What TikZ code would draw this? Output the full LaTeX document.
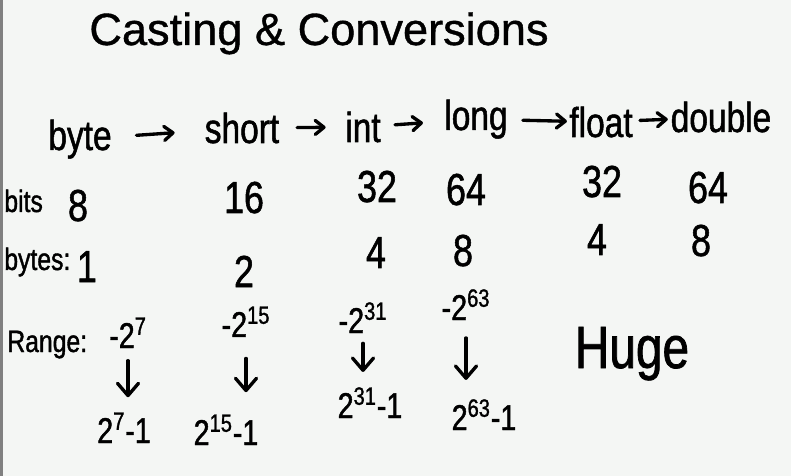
\documentclass[tikz,border=0pt]{standalone}
\usepackage{fontspec}
\setmainfont{Liberation Sans}[FakeBold=0.8]
\newfontfamily\handfont{Liberation Sans}[FakeStretch=0.8, FakeBold=1.2]
\usetikzlibrary{arrows.meta}
\definecolor{board}{HTML}{F4F6F4}

\begin{document}
\begin{tikzpicture}[
    x=0.02cm, y=-0.02cm,
    hw/.style={inner sep=0pt, anchor=base, text=black},
    headline/.style={hw, font=\fontsize{25.7}{30}\selectfont},
    word/.style={hw, font=\handfont\fontsize{23.8}{28}\selectfont},
    num/.style={hw, font=\handfont\fontsize{25.5}{30}\selectfont},
    lbl/.style={hw, anchor=base west, font=\handfont\fontsize{17.6}{21}\selectfont},
    rng/.style={hw, font=\handfont\fontsize{20.4}{24}\selectfont},
    hugetxt/.style={hw, font=\handfont\fontsize{34}{40}\selectfont},
    conv/.style={line width=1.9pt, line cap=round,
        -{Straight Barb[round, length=5pt, width=8pt]}},
    down/.style={line width=1.9pt, line cap=round,
        -{Straight Barb[round, length=7pt, width=12pt]}}
]
\useasboundingbox (0,0) rectangle (791,476);
\fill[board] (0,0) rectangle (791,476);
\fill[black!50] (0,0) rectangle (3,476);

\node[headline] (title) at (319,45) {Casting \& Conversions};

% --- widening chain of types ---
\node[word] (byte) at (80,150) {byte};
\node[word] (short) at (242,143) {short};
\node[word] (int) at (363,142) {int};
\node[word] (long) at (476,130) {long};
\node[word] (float) at (601,137) {float};
\node[word] (double) at (721,132) {double};

\foreach \a/\b/\s/\e in {byte/short/14/17, short/int/10/11,
    int/long/8/12, long/float/8.5/1.2, float/double/4/1.5} {
    \draw[conv, shorten <=\s pt, shorten >=\e pt] (\a) -- (\b);
}

% --- sizes ---
\node[lbl] (lbits) at (4,212) {bits};
\node[lbl] (lbytes) at (4,270) {bytes:};

\foreach \nm/\x/\y/\v in {b1/78/221/8, b2/244/213/16, b3/377/202/32,
    b4/466/205/64, b5/602/197/32, b6/708/203/64} {
    \node[num] (\nm) at (\x,\y) {\v};
}
\foreach \nm/\x/\y/\v in {y1/87/282/1, y2/244/287/2, y3/376/268/4,
    y4/463/266/8, y5/597/255/4, y6/701/256/8} {
    \node[num] (\nm) at (\x,\y) {\v};
}

% --- ranges ---
\node[lbl] (lrange) at (7,352) {Range:};

\foreach \nm/\x/\y/\p in {mn1/128/348/7, mn2/246/337/15,
    mn3/363/333/31, mn4/466/320/63} {
    \node[rng] (\nm) at (\x,\y) {-2\textsuperscript{\p}};
}
\foreach \nm/\x/\y/\p in {mx1/124/443/7, mx2/226/445/15,
    mx3/370/418/31, mx4/484/430/63} {
    \node[rng] (\nm) at (\x,\y) {2\textsuperscript{\p}-1};
}
\foreach \i/\s/\e in {1/7/8.5, 2/12/12.5, 3/5.7/8.5, 4/10/10.8} {
    \draw[down, shorten <=\s pt, shorten >=\e pt]
        (mn\i.south) -- (mn\i.south |- mx\i.north);
}

\node[hugetxt] (huge) at (632,368) {Huge};

\end{tikzpicture}
\end{document}
